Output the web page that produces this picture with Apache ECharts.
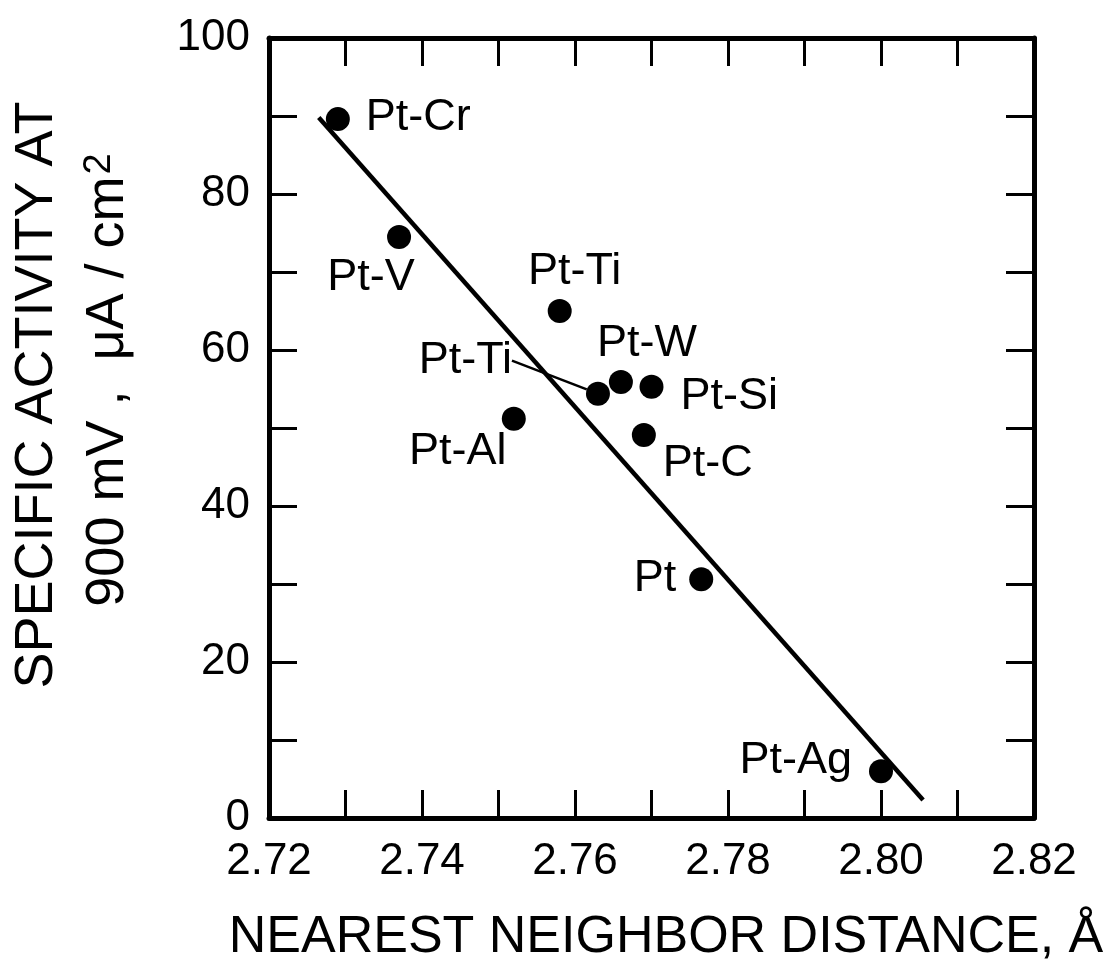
<!DOCTYPE html>
<html>
<head>
<meta charset="utf-8">
<title>Specific activity vs nearest neighbor distance</title>
<script src="https://cdn.jsdelivr.net/npm/echarts@6/dist/echarts.min.js"></script>
<style>
  html, body { margin: 0; padding: 0; background: #fff; }
  #chart { width: 1118px; height: 977px; }
</style>
</head>
<body>
<div id="chart"></div>
<script>
// Pt alloy catalysts: nearest neighbor distance (Å) vs specific activity at 900 mV (μA/cm²)
const alloyNames = ['Pt-Cr', 'Pt-V', 'Pt-Ti', 'Pt-W', 'Pt-Ti', 'Pt-Si', 'Pt-C', 'Pt-Al', 'Pt', 'Pt-Ag'];
const distance   = [2.729, 2.737, 2.758, 2.766, 2.763, 2.770, 2.769, 2.752, 2.7765, 2.800];
const activity   = [89.6, 74.5, 65.0, 55.9, 54.4, 55.3, 49.1, 51.2, 30.6, 6.0];

// Straight-line fit through the points (end points)
const fitDistance = [2.7265, 2.8055];
const fitActivity = [89.8, 2.3];

// Labelled tick values
const xTickLabels = ['2.72', '2.74', '2.76', '2.78', '2.80', '2.82'];
const yTickLabels = ['0', '20', '40', '60', '80', '100'];

const FONT = '"Liberation Sans", Arial, Helvetica, sans-serif';
const INK = '#000';

// Where each alloy's name sits relative to its dot
const labelPlacement = [
  { align: 'left',   dx: 28,  dy: -2 },   // Pt-Cr
  { align: 'center', dx: -28, dy: 41 },   // Pt-V
  { align: 'center', dx: 15,  dy: -39 },  // Pt-Ti (upper)
  { align: 'center', dx: 26,  dy: -38 },  // Pt-W
  { align: 'right',  dx: -86, dy: -33, leader: true }, // Pt-Ti (lower)
  { align: 'left',   dx: 29,  dy: 10 },   // Pt-Si
  { align: 'left',   dx: 19,  dy: 29 },   // Pt-C
  { align: 'center', dx: -56, dy: 33 },   // Pt-Al
  { align: 'right',  dx: -25, dy: -1 },   // Pt
  { align: 'right',  dx: -29, dy: -11 }   // Pt-Ag
];

const points = alloyNames.map((name, i) => {
  const p = labelPlacement[i];
  const item = {
    name: name,
    value: [distance[i], activity[i]],
    label: {
      show: true,
      position: 'inside',
      align: p.align,
      verticalAlign: 'middle',
      offset: [p.dx, p.dy],
      color: INK,
      formatter: name
    }
  };
  if (p.leader) {
    item.labelLine = { show: true, lineStyle: { color: INK, width: 2.5, opacity: 1 } };
  }
  return item;
});

const fitLine = fitDistance.map((d, i) => [d, fitActivity[i]]);

function xAxisBase(position, showLabels) {
  return {
    type: 'value',
    position: position,
    min: 2.72,
    max: 2.82,
    interval: 0.01,
    axisLine: { show: true, onZero: false, lineStyle: { color: INK, width: 5 } },
    axisTick: { show: true, inside: true, length: 28, lineStyle: { color: INK, width: 3 } },
    splitLine: { show: false },
    axisLabel: {
      show: showLabels,
      showMinLabel: true,
      showMaxLabel: true,
      margin: 22,
      fontSize: 44,
      color: INK,
      fontFamily: FONT,
      formatter: function (v) {
        const s = v.toFixed(2);
        return xTickLabels.indexOf(s) >= 0 ? s : '';
      }
    }
  };
}

function yAxisBase(position, showLabels) {
  return {
    type: 'value',
    position: position,
    min: 0,
    max: 100,
    interval: 10,
    axisLine: { show: true, onZero: false, lineStyle: { color: INK, width: 5 } },
    axisTick: { show: true, inside: true, length: 28, lineStyle: { color: INK, width: 3 } },
    splitLine: { show: false },
    axisLabel: {
      show: showLabels,
      showMinLabel: true,
      showMaxLabel: true,
      margin: 19,
      fontSize: 44,
      color: INK,
      fontFamily: FONT,
      formatter: function (v) {
        const s = String(Math.round(v));
        return yTickLabels.indexOf(s) >= 0 ? s : '';
      }
    }
  };
}

const chart = echarts.init(document.getElementById('chart'), null, { renderer: 'canvas' });

chart.setOption({
  animation: false,
  backgroundColor: '#fff',
  grid: { left: 269, right: 84, top: 38, bottom: 159, containLabel: false },
  xAxis: [xAxisBase('bottom', true), xAxisBase('top', false)],
  yAxis: [yAxisBase('left', true), yAxisBase('right', false)],
  graphic: [
    {
      type: 'text',
      x: 666,
      y: 938,
      style: {
        text: 'NEAREST NEIGHBOR DISTANCE, Å',
        fontSize: 52,
        fontFamily: FONT,
        fill: INK,
        align: 'center',
        verticalAlign: 'middle',
        textAlign: 'center',
        textVerticalAlign: 'middle'
      }
    },
    {
      type: 'text',
      x: 37,
      y: 395,
      rotation: Math.PI / 2,
      style: {
        text: 'SPECIFIC ACTIVITY AT',
        fontSize: 54,
        fontFamily: FONT,
        fill: INK,
        align: 'center',
        verticalAlign: 'middle',
        textAlign: 'center',
        textVerticalAlign: 'middle'
      }
    },
    {
      type: 'text',
      x: 108,
      y: 380,
      rotation: Math.PI / 2,
      style: {
        text: '900 mV ,  μA / cm{sup|2}',
        fontSize: 54,
        fontFamily: FONT,
        fill: INK,
        align: 'center',
        verticalAlign: 'middle',
        textAlign: 'center',
        textVerticalAlign: 'middle',
        rich: {
          sup: { fontSize: 38, fontFamily: FONT, fill: INK, verticalAlign: 'top', padding: [0, 0, 14, 2] }
        }
      }
    }
  ],
  series: [
    {
      type: 'line',
      data: fitLine,
      xAxisIndex: 0,
      yAxisIndex: 0,
      showSymbol: false,
      symbol: 'none',
      silent: true,
      z: 2,
      lineStyle: { color: INK, width: 4.5 }
    },
    {
      type: 'scatter',
      data: points,
      xAxisIndex: 0,
      yAxisIndex: 0,
      symbol: 'circle',
      symbolSize: 24,
      z: 3,
      itemStyle: { color: INK, opacity: 1 },
      label: {
        show: true,
        fontSize: 45,
        color: INK,
        fontFamily: FONT
      },
      labelLine: { show: false },
      emphasis: { disabled: true }
    }
  ]
});
</script>
</body>
</html>
